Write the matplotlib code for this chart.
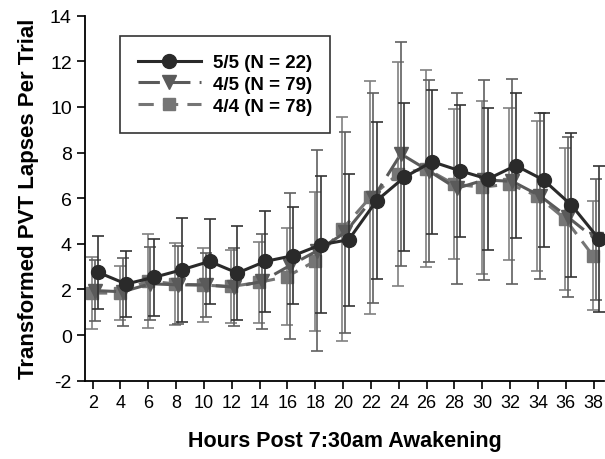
import numpy as np
import matplotlib
matplotlib.use("Agg")
import matplotlib.pyplot as plt

plt.rcParams["font.family"] = ["Liberation Sans Narrow", "Liberation Sans", "DejaVu Sans"]
plt.rcParams["axes.unicode_minus"] = False

# Data
hours = [2, 4, 6, 8, 10, 12, 14, 16, 18, 20, 22, 24, 26, 28, 30, 32, 34, 36, 38]

mean_55 = [2.75, 2.24, 2.53, 2.86, 3.23, 2.72, 3.23, 3.48, 3.96, 4.18, 5.89, 6.92, 7.6, 7.2, 6.84, 7.43, 6.8, 5.7, 4.2]
sd_55 = [1.6, 1.45, 1.7, 2.27, 1.85, 2.08, 2.2, 2.13, 3.0, 2.9, 3.43, 3.24, 3.15, 2.9, 3.1, 3.17, 2.95, 3.17, 3.2]

mean_45 = [1.95, 1.9, 2.25, 2.2, 2.2, 2.1, 2.35, 3.04, 3.7, 4.5, 6.0, 7.94, 7.2, 6.43, 6.8, 6.74, 6.1, 5.17, 4.2]
sd_45 = [1.35, 1.5, 1.6, 1.7, 1.4, 1.7, 2.1, 3.2, 4.4, 4.4, 4.6, 4.9, 4.0, 4.2, 4.4, 4.5, 3.65, 3.5, 2.65]

mean_44 = [1.84, 1.84, 2.38, 2.24, 2.19, 2.13, 2.31, 2.56, 3.23, 4.65, 6.04, 7.06, 7.3, 6.62, 6.48, 6.62, 6.1, 5.09, 3.48]
sd_44 = [1.58, 1.2, 2.05, 1.8, 1.62, 1.6, 1.78, 2.12, 3.05, 4.9, 5.1, 4.93, 4.3, 3.3, 3.8, 3.35, 3.3, 3.1, 2.4]

labels = ["5/5 (N = 22)", "4/5 (N = 79)", "4/4 (N = 78)"]

x = np.array(hours, dtype=float)

fig = plt.figure(figsize=(6.05, 4.6), dpi=100)
ax = fig.add_axes([0.1405, 0.1702, 0.858, 0.7935])

# 4/4 series (squares, light grey)
c44 = ax.errorbar(x - 0.05, mean_44, yerr=sd_44, color="#757575", ls=(0, (5, 3)), lw=2.2,
                  marker="s", ms=9, mfc="#757575", mec="#757575",
                  elinewidth=1.2, ecolor="#808080", capsize=4, capthick=1.2, zorder=2)

# 4/5 series (triangles, mid grey)
c45 = ax.errorbar(x + 0.15, mean_45, yerr=sd_45, color="#5a5a5a", ls=(0, (7, 3)), lw=2.2,
                  marker="v", ms=10, mfc="#5a5a5a", mec="#5a5a5a",
                  elinewidth=1.2, ecolor="#606060", capsize=4, capthick=1.2, zorder=3)

# 5/5 series (circles, dark)
c55 = ax.errorbar(x + 0.4, mean_55, yerr=sd_55, color="#2a2a2a", ls="-", lw=2.2,
                  marker="o", ms=10, mfc="#2a2a2a", mec="#2a2a2a",
                  elinewidth=1.2, ecolor="#333333", capsize=4, capthick=1.2, zorder=4)

ax.set_xlim(1.45, 38.75)
ax.set_ylim(-2, 14)
ax.set_xticks(hours)
ax.set_yticks(np.arange(-2, 15, 2))
ax.tick_params(axis="x", direction="out", length=6, width=1.2, labelsize=13, colors="black")
ax.tick_params(axis="y", direction="out", length=6, width=1.2, labelsize=14, colors="black")

ax.spines["top"].set_visible(False)
ax.spines["right"].set_visible(False)
ax.spines["left"].set_linewidth(1.3)
ax.spines["bottom"].set_linewidth(1.3)

ax.set_xlabel("Hours Post 7:30am Awakening", fontsize=15.5, fontweight="bold", labelpad=14)
ax.set_ylabel("Transformed PVT Lapses Per Trial", fontsize=16, fontweight="bold", labelpad=8)

leg = ax.legend([c55[0], c45[0], c44[0]], labels, loc="upper left",
                bbox_to_anchor=(0.067, 0.944), frameon=True, fancybox=False,
                edgecolor="black", handlelength=3.4, handletextpad=0.6,
                prop={"weight": "bold", "size": 13.5}, borderpad=0.95, labelspacing=0.25,
                borderaxespad=0)
leg.get_frame().set_linewidth(1.2)

fig.savefig("out.png", dpi=100)
